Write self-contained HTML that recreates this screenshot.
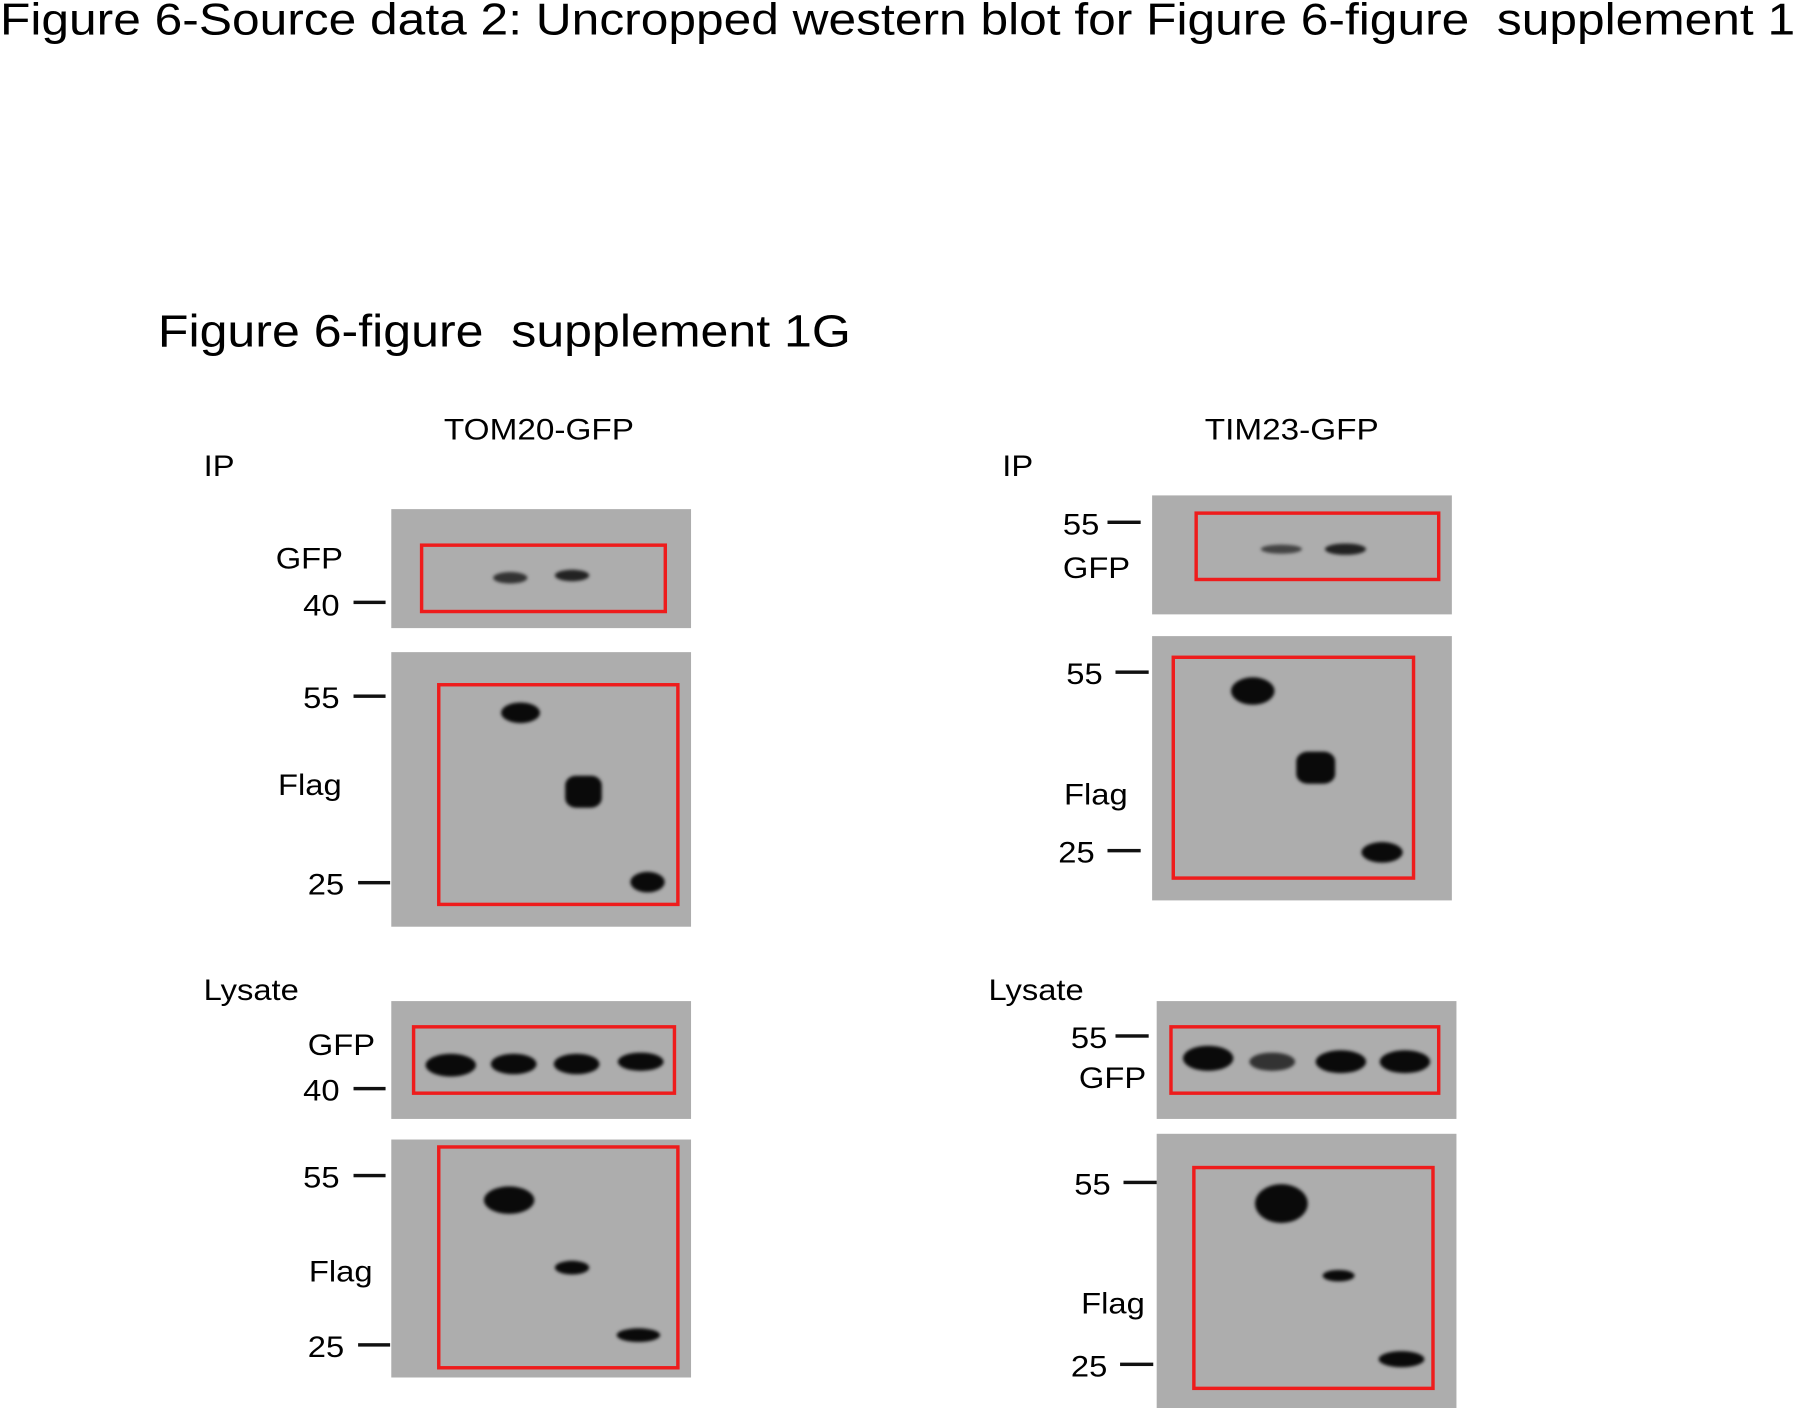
<!DOCTYPE html>
<html><head><meta charset="utf-8"><style>
html,body{margin:0;padding:0;background:#fff;overflow:hidden}
body{width:1794px;height:1408px}
#s{position:absolute;left:0;top:0;width:1568px;height:1231px;transform:scale(1.1441);transform-origin:0 0;font-family:"Liberation Sans",Arial,sans-serif;color:#000}
.t{position:absolute;white-space:nowrap;line-height:1;transform:scaleX(1.1);transform-origin:0 0}
.p{position:absolute;background:#adadad}
.r{position:absolute;border:3px solid #ee1c1c;box-sizing:border-box}
.k{position:absolute;height:3px;background:#111}
.b{position:absolute;background:#0a0a0a;border-radius:50%;filter:blur(1.5px)}
.l{font-size:26px}
</style></head><body><div id="s">
<div class="t" style="left:0;top:-1px;font-size:38.5px;transform:scaleX(1.128)">Figure 6-Source data 2: Uncropped western blot for Figure 6-figure&nbsp; supplement 1</div>
<div class="t" style="left:138px;top:270px;font-size:40px;transform:scaleX(1.094)">Figure 6-figure&nbsp; supplement 1G</div>
<div class="t l" style="left:388px;top:362px;transform:scaleX(1.12)">TOM20-GFP</div>
<div class="t l" style="left:1053px;top:362px;transform:scaleX(1.12)">TIM23-GFP</div>
<div class="t l" style="left:178px;top:394px">IP</div>
<div class="t l" style="left:876px;top:394px">IP</div>
<div class="t l" style="left:178px;top:852px">Lysate</div>
<div class="t l" style="left:864px;top:852px">Lysate</div>

<div class="p" style="left:342px;top:445px;width:262px;height:104px"></div>
<div class="p" style="left:342px;top:570px;width:262px;height:240px"></div>
<div class="p" style="left:342px;top:875px;width:262px;height:103px"></div>
<div class="p" style="left:342px;top:996px;width:262px;height:208px"></div>
<div class="p" style="left:1007px;top:433px;width:262px;height:104px"></div>
<div class="p" style="left:1007px;top:556px;width:262px;height:231px"></div>
<div class="p" style="left:1011px;top:875px;width:262px;height:103px"></div>
<div class="p" style="left:1011px;top:991px;width:262px;height:240px"></div>

<div class="b" style="left:431px;top:500px;width:30px;height:10px;background:#333"></div>
<div class="b" style="left:485px;top:498px;width:30px;height:10px;background:#222"></div>
<div class="b" style="left:438px;top:614px;width:34px;height:18px"></div>
<div class="b" style="left:494px;top:678px;width:32px;height:28px;border-radius:30%"></div>
<div class="b" style="left:551px;top:762px;width:30px;height:18px"></div>
<div class="b" style="left:372px;top:921px;width:44px;height:20px"></div>
<div class="b" style="left:429px;top:921px;width:40px;height:18px"></div>
<div class="b" style="left:484px;top:921px;width:40px;height:18px"></div>
<div class="b" style="left:540px;top:920px;width:40px;height:16px"></div>
<div class="b" style="left:423px;top:1037px;width:44px;height:24px"></div>
<div class="b" style="left:485px;top:1102px;width:30px;height:12px"></div>
<div class="b" style="left:539px;top:1161px;width:38px;height:12px"></div>
<div class="b" style="left:1102px;top:476px;width:36px;height:8px;background:#444"></div>
<div class="b" style="left:1158px;top:475px;width:36px;height:10px;background:#222"></div>
<div class="b" style="left:1076px;top:592px;width:38px;height:24px"></div>
<div class="b" style="left:1133px;top:657px;width:34px;height:28px;border-radius:30%"></div>
<div class="b" style="left:1190px;top:736px;width:36px;height:18px"></div>
<div class="b" style="left:1034px;top:914px;width:44px;height:22px"></div>
<div class="b" style="left:1092px;top:920px;width:40px;height:16px;background:#333"></div>
<div class="b" style="left:1150px;top:918px;width:44px;height:20px"></div>
<div class="b" style="left:1206px;top:918px;width:44px;height:20px"></div>
<div class="b" style="left:1097px;top:1035px;width:46px;height:34px"></div>
<div class="b" style="left:1156px;top:1110px;width:28px;height:10px"></div>
<div class="b" style="left:1205px;top:1181px;width:40px;height:14px"></div>

<div class="r" style="left:367px;top:475px;width:216px;height:61px"></div>
<div class="r" style="left:382px;top:597px;width:212px;height:195px"></div>
<div class="r" style="left:360px;top:896px;width:231px;height:61px"></div>
<div class="r" style="left:382px;top:1001px;width:212px;height:196px"></div>
<div class="r" style="left:1044px;top:447px;width:215px;height:61px"></div>
<div class="r" style="left:1024px;top:573px;width:213px;height:196px"></div>
<div class="r" style="left:1022px;top:896px;width:237px;height:61px"></div>
<div class="r" style="left:1042px;top:1019px;width:212px;height:196px"></div>

<div class="t l" style="left:241px;top:475px">GFP</div>
<div class="t l" style="left:265px;top:516px">40</div><div class="k" style="left:309px;top:525px;width:28px"></div>
<div class="t l" style="left:265px;top:597px">55</div><div class="k" style="left:309px;top:607px;width:28px"></div>
<div class="t l" style="left:243px;top:673px">Flag</div>
<div class="t l" style="left:269px;top:760px">25</div><div class="k" style="left:313px;top:770px;width:28px"></div>
<div class="t l" style="left:269px;top:900px">GFP</div>
<div class="t l" style="left:265px;top:940px">40</div><div class="k" style="left:309px;top:950px;width:28px"></div>
<div class="t l" style="left:265px;top:1016px">55</div><div class="k" style="left:309px;top:1026px;width:28px"></div>
<div class="t l" style="left:270px;top:1098px">Flag</div>
<div class="t l" style="left:269px;top:1164px">25</div><div class="k" style="left:313px;top:1174px;width:28px"></div>
<div class="t l" style="left:929px;top:445px">55</div><div class="k" style="left:968px;top:455px;width:29px"></div>
<div class="t l" style="left:929px;top:483px">GFP</div>
<div class="t l" style="left:932px;top:576px">55</div><div class="k" style="left:975px;top:586px;width:29px"></div>
<div class="t l" style="left:930px;top:681px">Flag</div>
<div class="t l" style="left:925px;top:732px">25</div><div class="k" style="left:968px;top:742px;width:29px"></div>
<div class="t l" style="left:936px;top:894px">55</div><div class="k" style="left:975px;top:904px;width:29px"></div>
<div class="t l" style="left:943px;top:929px">GFP</div>
<div class="t l" style="left:939px;top:1022px">55</div><div class="k" style="left:982px;top:1032px;width:29px"></div>
<div class="t l" style="left:945px;top:1126px">Flag</div>
<div class="t l" style="left:936px;top:1181px">25</div><div class="k" style="left:979px;top:1191px;width:29px"></div>
</div></body></html>
